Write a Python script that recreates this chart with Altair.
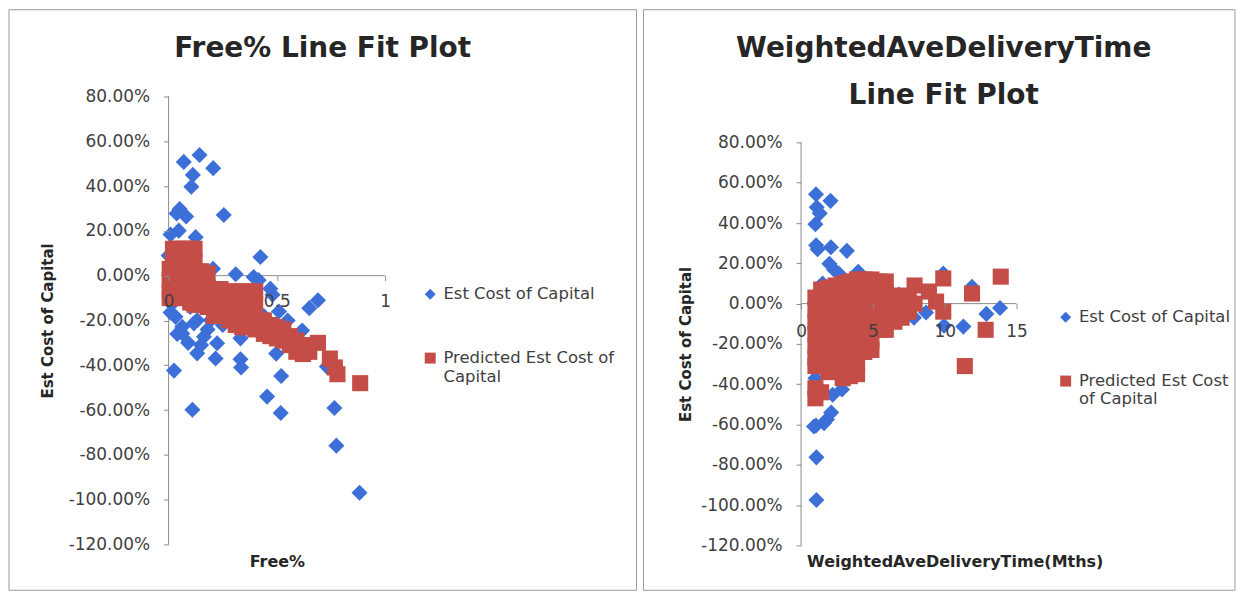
import altair as alt
import pandas as pd

SERIES = ["Est Cost of Capital", "Predicted Est Cost of Capital"]
BLUE = "#3C6FD8"
RED = "#C44E47"
FONT = "DejaVu Sans"
AXIS_GREY = "#8C8C8C"
LABEL_COL = "#404040"
TITLE_COL = "#262626"

y_ticks = [-120, -100, -80, -60, -40, -20, 0, 20, 40, 60, 80]
free_ticks = [0, 0.5, 1]
wadt_ticks = [0, 5, 10, 15]

# ---------------- Left panel: Free% ----------------
free_actual_x = [0.070, 0.143, 0.112, 0.105, 0.206, 0.051, 0.037, 0.081, 0.255, 0.047,
                 0.125, 0.009, 0.000, 0.424, 0.205, 0.310, 0.393, 0.416, 0.470, 0.480,
                 0.690, 0.650, 0.510, 0.617, 0.014, 0.009, 0.032, 0.063, 0.132, 0.063,
                 0.132, 0.217, 0.332, 0.335, 0.025, 0.520, 0.455, 0.518, 0.110, 0.766,
                 0.775, 0.882, 0.497, 0.332, 0.224, 0.163, 0.117, 0.194, 0.731, 0.090,
                 0.150, 0.040, 0.180, 0.250, 0.290, 0.440, 0.550, 0.020, 0.100, 0.230,
                 0.360]
free_actual_y = [50.8, 53.9, 45.0, 39.7, 48.0, 29.8, 27.8, 26.4, 27.1, 20.1,
                 17.2, 18.4, 9.0, 8.3, 3.1, 0.6, -0.6, -2.0, -5.8, -8.5,
                 -11.0, -14.5, -16.0, -24.5, -12.8, -16.5, -18.4, -22.8, -19.9, -25.8,
                 -34.7, -37.0, -37.3, -41.0, -42.4, -44.8, -54.0, -61.3, -59.9, -59.1,
                 -75.9, -96.9, -34.8, -28.0, -30.2, -27.3, -21.3, -19.9, -40.6, -30.0,
                 -31.0, -26.0, -24.0, -22.0, -12.0, -18.0, -20.0, 5.0, -14.0, -9.0,
                 -12.0]

free_pred_columns = {
    0.005: [3, -2, -7, -10],
    0.02: [12, 6, 0, -5, -10],
    0.04: [12, 6, 0, -5, -10],
    0.06: [12, 6, 0, -5, -9],
    0.08: [12, 6, 0, -5, -10],
    0.10: [12, 6, 0, -6, -12],
    0.12: [12, 6, 0, -6, -13],
    0.15: [2, -4, -9, -13],
    0.18: [1, -5, -10, -14],
    0.21: [-6, -12, -18],
    0.24: [-6, -12, -18],
    0.28: [-7, -13, -20],
    0.31: [-7, -13, -19, -22],
    0.34: [-7, -13, -19, -23],
    0.37: [-7, -13, -19, -23],
    0.40: [-7, -13, -19, -24],
    0.44: [-20, -26],
    0.47: [-22, -27],
    0.50: [-23, -28],
    0.53: [-24, -29],
    0.56: [-27, -31],
    0.59: [-29, -34],
    0.62: [-31, -35],
    0.65: [-34],
    0.69: [-30],
    0.745: [-37],
    0.768: [-41],
    0.78: [-44],
    0.885: [-48],
}

# ---------------- Right panel: WeightedAveDeliveryTime ----------------
wadt_actual_x = [1.04, 2.05, 1.09, 1.30, 1.00, 1.05, 1.15, 2.08, 3.19, 1.97,
                 2.30, 2.64, 3.98, 9.90, 11.90, 13.85, 12.90, 11.30, 9.95, 8.70,
                 7.86, 6.80, 4.03, 1.00, 1.04, 1.60, 2.10, 1.80, 2.85, 2.20,
                 1.07, 1.07, 0.90, 1.50, 3.00, 2.00, 1.20, 5.00, 3.50]
wadt_actual_y = [54.3, 51.0, 47.8, 44.8, 39.4, 29.0, 27.0, 28.0, 26.2, 19.8,
                 16.8, 14.8, 15.8, 14.9, 8.4, -2.2, -5.1, -11.4, -11.0, -4.4,
                 -7.0, 4.5, -26.8, -37.0, -60.5, -59.3, -54.0, -57.5, -42.6, -45.2,
                 -76.3, -97.5, -61.0, 10.0, 5.0, -20.0, -30.0, 0.0, -15.0]

wadt_pred_columns = {
    1.0: [3, -3, -9, -15, -21, -27, -31, -42, -47],
    1.4: [7, 1, -5, -11, -17, -23, -29, -44],
    1.9: [8, 2, -4, -10, -16, -22, -28, -34],
    2.4: [9, 3, -3, -9, -15, -21, -27, -33],
    2.9: [10, 4, -2, -8, -14, -20, -26, -32, -37],
    3.4: [11, 5, -1, -7, -13, -19, -25, -31, -36],
    3.9: [12, 6, 0, -6, -12, -18, -24, -30, -35],
    4.4: [12, 6, 0, -6, -12, -18, -24],
    4.9: [12, 6, 0, -6, -12, -18, -23],
    5.4: [11, 5, -1, -7, -13],
    5.9: [11, 5, -1, -7, -13],
    6.5: [3, -3, -9],
    7.0: [4, -2, -7],
    7.5: [3, -4],
    7.9: [9, 0],
    8.9: [6],
    9.4: [1],
    9.9: [12.5, -4],
    11.4: [-31],
    11.9: [5],
    12.85: [-13],
    13.9: [13.4],
}


def expand(columns):
    xs, ys = [], []
    for x, yl in columns.items():
        for y in yl:
            xs.append(x)
            ys.append(y)
    return xs, ys


Y_LABEL = "(datum.value < 0 ? '-' : '') + format(abs(datum.value), '.2f') + '%'"
ONE = pd.DataFrame({"f": [0]})


def text_layer(txt, x, y, size, bold):
    return alt.Chart(ONE).mark_text(
        font=FONT, fontSize=size, fontWeight="bold" if bold else "normal",
        color=TITLE_COL, align="center", baseline="middle"
    ).encode(x=alt.value(x), y=alt.value(y), text=alt.value(txt))


def panel(ax, ay, pcols, *, xmax, ymax, xticks, xfmt, xtitle, width, height,
          title_lines, frame, legend_x, legend_y, wrap, ytitle_x, ytitle_y,
          xtitle_x, xtitle_y, xlabel_pad):
    px, py = expand(pcols)
    df = pd.DataFrame({
        "x": ax + px,
        "y": ay + py,
        "series": [SERIES[0]] * len(ax) + [SERIES[1]] * len(px),
    })
    zero_px = height * ymax / (ymax + 120)
    xscale = alt.Scale(domain=[0, xmax], nice=False, zero=False)
    yscale = alt.Scale(domain=[-120, ymax], nice=False)
    legend = alt.Legend(
        orient="none", legendX=legend_x, legendY=legend_y, title=None,
        labelFont=FONT, labelFontSize=16.5, labelColor=LABEL_COL,
        symbolSize=121, labelOffset=5, rowPadding=46, labelLimit=400,
        padding=0, symbolOpacity=1,
        labelExpr="datum.label == '%s' ? %s : datum.label" % (SERIES[1], wrap),
    )
    xaxis = alt.Axis(values=xticks, format=xfmt, offset=-(height - zero_px), domain=False,
                     grid=False, tickColor=AXIS_GREY, tickSize=5, zindex=1,
                     labelBaseline="middle", labelPadding=xlabel_pad,
                     labelFlush=False, labelFont=FONT, labelFontSize=17,
                     labelColor=LABEL_COL, title=xtitle, titleFont=FONT,
                     titleFontSize=16, titleFontWeight="bold", titleColor=TITLE_COL,
                     titleX=xtitle_x, titleY=xtitle_y, titleBaseline="middle",
                     titleAlign="center")
    yaxis = alt.Axis(values=y_ticks, labelExpr=Y_LABEL, grid=False, domain=False,
                     tickColor=AXIS_GREY, tickSize=5, zindex=1,
                     labelPadding=14, labelFlush=False, labelOverlap=False,
                     labelFont=FONT, labelFontSize=17, labelColor=LABEL_COL,
                     title="Est Cost of Capital", titleFont=FONT, titleFontSize=15,
                     titleFontWeight="bold", titleColor=TITLE_COL,
                     titleX=ytitle_x, titleY=ytitle_y, titleAngle=270,
                     titleBaseline="middle", titleAlign="center")
    points = alt.Chart(df).mark_point(filled=True, size=260, opacity=1).encode(
        x=alt.X("x:Q", scale=xscale, axis=xaxis),
        y=alt.Y("y:Q", scale=yscale, axis=yaxis),
        color=alt.Color("series:N", scale=alt.Scale(domain=SERIES, range=[BLUE, RED]), legend=legend),
        shape=alt.Shape("series:N", scale=alt.Scale(domain=SERIES, range=["diamond", "square"]), legend=legend),
    )
    yline = alt.Chart(pd.DataFrame({"x": [0], "y": [-120], "y2": [80]})).mark_rule(
        color=AXIS_GREY, strokeWidth=1
    ).encode(x=alt.X("x:Q", scale=xscale), y=alt.Y("y:Q", scale=yscale), y2="y2:Q")
    xline = alt.Chart(pd.DataFrame({"x": [0], "x2": [xmax], "y": [0]})).mark_rule(
        color=AXIS_GREY, strokeWidth=1
    ).encode(x=alt.X("x:Q", scale=xscale), x2="x2:Q", y=alt.Y("y:Q", scale=yscale))
    fx1, fx2, fy1, fy2 = frame
    box = alt.Chart(ONE).mark_rect(
        fill="transparent", stroke="#9A9A9A", strokeWidth=1
    ).encode(x=alt.value(fx1), x2=alt.value(fx2), y=alt.value(fy1), y2=alt.value(fy2))
    titles = [text_layer(t, tx, ty, 28, True) for (t, tx, ty) in title_lines]
    return alt.layer(box, *titles, yline, xline, points).properties(width=width, height=height)


left = panel(free_actual_x, free_actual_y, free_pred_columns,
             xmax=1, ymax=80, xticks=free_ticks, xfmt="~g", xtitle="Free%",
             width=217, height=449,
             title_lines=[("Free% Line Fit  Plot", 154.5, -48)],
             frame=(-160, 469, -87, 495), legend_x=254, legend_y=190,
             wrap="['Predicted Est Cost of', 'Capital']", ytitle_x=-121, ytitle_y=224.5,
             xtitle_x=108.5, xtitle_y=287, xlabel_pad=21)

right = panel(wadt_actual_x, wadt_actual_y, wadt_pred_columns,
              xmax=15, ymax=102.8, xticks=wadt_ticks, xfmt="d",
              xtitle="WeightedAveDeliveryTime(Mths)", width=216, height=450,
              title_lines=[("WeightedAveDeliveryTime", 143, -48), ("Line Fit  Plot", 143, 0)],
              frame=(-158, 435, -87, 495), legend_x=257, legend_y=213,
              wrap="['Predicted Est Cost', 'of Capital']", ytitle_x=-116, ytitle_y=248,
              xtitle_x=154, xtitle_y=259, xlabel_pad=23)

chart = alt.hconcat(left, right, spacing=5).resolve_scale(
    color="independent", shape="independent"
).resolve_legend(color="independent", shape="independent").properties(
    padding=0, background="white"
).configure_view(strokeWidth=0)

chart.save("out.html", embed_options={"renderer": "svg", "actions": False})
